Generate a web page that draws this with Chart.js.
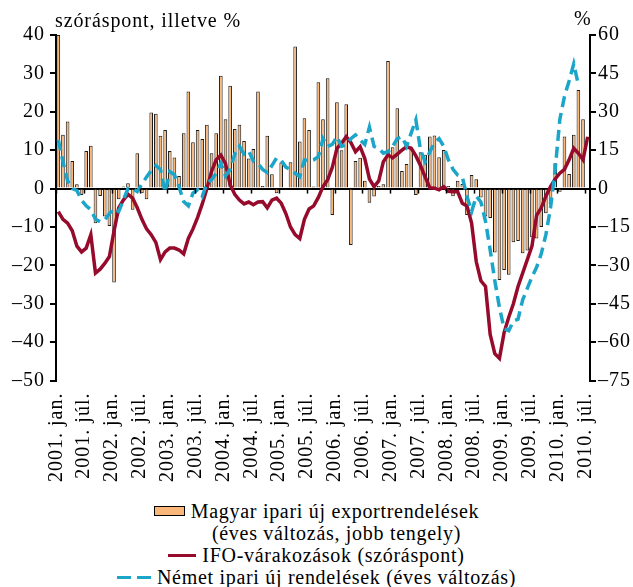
<!DOCTYPE html>
<html>
<head>
<meta charset="utf-8">
<script src="https://cdn.jsdelivr.net/npm/chart.js@4.4.0/dist/chart.umd.min.js"></script>
<style>
  body { margin: 0; background: #fff; font-family: "Liberation Serif", serif; color: #000; }
  #wrap { position: relative; width: 633px; height: 587px; overflow: hidden; }
  #c { position: absolute; left: 0; top: 0; }
  .note { position: absolute; font-size: 20px; line-height: 20px; letter-spacing: 0.9px; white-space: nowrap; }
  #legend { position: absolute; left: 0; top: 500px; width: 633px; text-align: center; font-size: 20px; line-height: 22px; letter-spacing: 0.7px; }
  #legend .sym { display: inline-block; vertical-align: middle; margin-right: 6px; position: relative; top: -2px; }
  .box { width: 29px; height: 8px; background: #f9b77a; border: 1px solid #000; }
  .red { width: 28px; height: 3px; background: #960a2c; }
  .dash { width: 34px; height: 3px; background: linear-gradient(to right, #1ba6c9 0 14px, transparent 14px 20px, #1ba6c9 20px 34px); }
</style>
</head>
<body>
<div id="wrap">
  <canvas id="c" width="633" height="490"></canvas>
  <div class="note" style="left:55px; top:10px;">szóráspont, illetve %</div>
  <div class="note" style="left:574px; top:8px;">%</div>
  <div id="legend">
    <div><span class="sym box"></span>Magyar ipari új exportrendelések</div>
    <div style="padding-left:40px;">(éves változás, jobb tengely)</div>
    <div><span class="sym red"></span>IFO-várakozások (szóráspont)</div>
    <div><span class="sym dash"></span>Német ipari új rendelések (éves változás)</div>
  </div>
</div>
<script>
// havi adatok 2001. jan. - 2010. júl.
const years = [2001, 2002, 2003, 2004, 2005, 2006, 2007, 2008, 2009, 2010];
const monthNames = ["jan.", "febr.", "márc.", "ápr.", "máj.", "jún.", "júl.", "aug.", "szept.", "okt.", "nov.", "dec."];
const lastMonthIndex = 6; // 2010. júl.

const labels = [];
years.forEach(function (y) {
  monthNames.forEach(function (m, i) {
    if (y < 2010 || i <= lastMonthIndex) labels.push(y + ". " + m);
  });
});

// Magyar ipari új exportrendelések, éves változás (%), jobb tengely
const exportOrders = [
  60, 21, 26.2, 10.8, 1.7, -2.5, 14.7, 16.7, -13.5, -2.9,
  -10.9, -14.6, -36.7, -4.2, 0.8, 2.1, -8.3, 13.8, -1.8, -4.2,
  29.7, 29.2, 20.6, 22.9, 14.7, 12.1, 4.9, 21.6, 37.9, 18.1,
  22.9, 19.4, 24.9, 13.8, 21.6, 44.1, 27.1, 40.2, 23.3, 24.9,
  18.6, 11.8, 15.5, 37.9, 1, 20.6, 5.6, -1.8, 10.2, -0.5,
  10.3, 55.5, 18.4, 27.5, 22.9, 0.8, 41.5, 27.1, 43.1, -10.3,
  33.7, 15, 32.9, -22, 10.8, 12, 3.1, -5.5, -3.1, 1,
  1.7, 49.8, 16.1, 31.4, 6.9, 9.6, 16, -2.5, 14.2, 13.2,
  20.3, 20.7, 12.2, 15.1, 1, -3, 3.1, 1.8, -10.3, 5.3,
  3.6, -3.5, -10.9, -11.5, -25, -35.7, -31.8, -33.7, -21, -20.5,
  -25.3, -24.2, -19, -19.5, -15, -9.6, -6, 9.9, -1.2, 20.3,
  5.7, 21, 38.5, 27.1, null
];

// IFO-várakozások (szóráspont), bal tengely
const ifoExpectations = [
  -6, -8, -9, -11, -15, -16.5, -15.5, -12, -22, -21,
  -19.5, -17.7, -11, -5, -3, -1.5, -2.5, -5, -8, -10.5,
  -12, -14, -18.5, -16.5, -15.5, -15.5, -16, -17, -13, -10.5,
  -7.5, -4, 0, 4.5, 7.5, 8.7, 6.5, 1, -1.5, -3,
  -4, -3.5, -4.2, -3.5, -3.4, -5, -3, -2.5, -3.8, -6.5,
  -10, -12, -13, -8, -5.3, -4.5, -2.3, 0.5, 2.3, 5.5,
  10.5, 11.8, 13.5, 12, 9.6, 10.9, 7.8, 2.5, 0.5, 2,
  7, 8.8, 8, 9, 10, 10.9, 10.5, 8.5, 6, 3,
  0.2, 0.1, -0.3, 0.5, -0.7, -0.8, -0.8, -3.8, -4.5, -9,
  -19, -24, -25.5, -38, -43, -44.2, -37.5, -33.5, -30, -25.5,
  -22, -18.5, -15, -7, -5, -2, 0.5, 2.5, 4, 5,
  7.5, 10.5, 9.2, 7.5, 13.5
];

// Német ipari új rendelések, éves változás (%), bal tengely
const germanOrders = [
  12.7, 7, 2, 0, -0.5, -3, -4.5, -5.5, -8, -8.6,
  -8.2, -6.5, -5.2, -6, -3, 0, 0, -0.8, 1.2, 3,
  4.7, 6, 5, -1, 4.4, 3.6, 0.5, -3.4, -4.5, -1.2,
  -0.3, -2, 1.4, 2.3, 4, 6.6, 3.3, 5, 9, 11,
  9, 9.8, 7.2, 6.5, 5, 4.2, 6, 8, 7.3, 5.6,
  4.9, 4, 3.1, 7.5, 7.2, 7.5, 8.3, 13, 11, 11.5,
  13.5, 11, 11.5, 13, 14, 12.7, 11.5, 16, 11, 10.5,
  9.2, 9.6, 11, 13, 13.5, 11, 14.5, 17.9, 10, 7,
  9.5, 12, 13, 11, 7.5, 5, 3.5, 3, -2, -6,
  -2, -3.5, -8.5, -16, -24, -31, -36.5, -37, -34.5, -34,
  -29, -26, -23, -20.5, -17, -12, -5, 5, 18, 24,
  28, 32.5, 27, null, null
];

const fontFamily = "'Liberation Serif', 'Times New Roman', serif";

function minusFmt(v) {
  return v < 0 ? "\u2013" + Math.abs(v) : String(v);
}

// a szöveg betűköze a vásznon (a mérés és a rajzolás előtt)
const spacing = {
  id: "spacing",
  beforeLayout: function (chart) { chart.ctx.letterSpacing = "1px"; },
  beforeDraw: function (chart) { chart.ctx.letterSpacing = "1px"; }
};

// kis osztásjelek a nulla vonalon, félévente
const zeroTicks = {
  id: "zeroTicks",
  afterDatasetsDraw: function (chart) {
    const x = chart.scales.x;
    const y = chart.scales.y;
    const ctx = chart.ctx;
    const y0 = y.getPixelForValue(0);
    const half = (x.getPixelForValue(1) - x.getPixelForValue(0)) / 2;
    ctx.save();
    ctx.strokeStyle = "#000";
    ctx.lineWidth = 1.5;
    for (let i = 0; i < labels.length; i += 6) {
      const px = Math.round(x.getPixelForValue(i) - half) + 0.5;
      ctx.beginPath();
      ctx.moveTo(px, y0);
      ctx.lineTo(px, y0 + 5);
      ctx.stroke();
    }
    ctx.restore();
  }
};

new Chart(document.getElementById("c"), {
  type: "bar",
  data: {
    labels: labels,
    datasets: [
      {
        type: "line",
        label: "Német ipari új rendelések (éves változás)",
        data: germanOrders,
        yAxisID: "y",
        borderColor: "#1ba6c9",
        borderWidth: 3.5,
        borderDash: [11, 6],
        pointRadius: 0,
        tension: 0,
        fill: false,
        order: 1
      },
      {
        type: "line",
        label: "IFO-várakozások (szóráspont)",
        data: ifoExpectations,
        yAxisID: "y",
        borderColor: "#960a2c",
        borderWidth: 3.5,
        pointRadius: 0,
        tension: 0,
        fill: false,
        order: 2
      },
      {
        label: "Magyar ipari új exportrendelések (éves változás, jobb tengely)",
        data: exportOrders,
        yAxisID: "yR",
        backgroundColor: "#f9b77a",
        borderColor: "#1a1a1a",
        borderWidth: 1,
        barPercentage: 0.78,
        categoryPercentage: 1,
        order: 3
      }
    ]
  },
  options: {
    responsive: false,
    animation: false,
    devicePixelRatio: 1,
    layout: { padding: { left: 7, right: 0, top: 35, bottom: 4 } },
    plugins: { legend: { display: false }, tooltip: { enabled: false } },
    scales: {
      x: {
        offset: true,
        grid: { display: false },
        border: { display: false },
        ticks: {
          autoSkip: false,
          maxRotation: 90,
          minRotation: 90,
          padding: 4,
          labelOffset: -2,
          color: "#000",
          font: { family: fontFamily, size: 20 },
          callback: function (value, index) {
            return index % 6 === 0 ? this.getLabelForValue(value) : "";
          }
        }
      },
      y: {
        position: "left",
        min: -50,
        max: 40,
        border: { display: true, color: "#000", width: 2 },
        grid: {
          color: function (c) { return c.tick && c.tick.value === 0 ? "#000" : "rgba(0,0,0,0)"; },
          lineWidth: 2,
          tickColor: "#000",
          tickLength: 6
        },
        ticks: {
          stepSize: 10,
          padding: 5,
          color: "#000",
          font: { family: fontFamily, size: 20 },
          callback: minusFmt
        }
      },
      yR: {
        position: "right",
        min: -75,
        max: 60,
        border: { display: true, color: "#000", width: 2 },
        grid: { drawOnChartArea: false, lineWidth: 2, tickColor: "#000", tickLength: 6 },
        ticks: {
          stepSize: 15,
          padding: 2,
          color: "#000",
          font: { family: fontFamily, size: 20 },
          callback: minusFmt
        }
      }
    }
  },
  plugins: [spacing, zeroTicks]
});
</script>
</body>
</html>
